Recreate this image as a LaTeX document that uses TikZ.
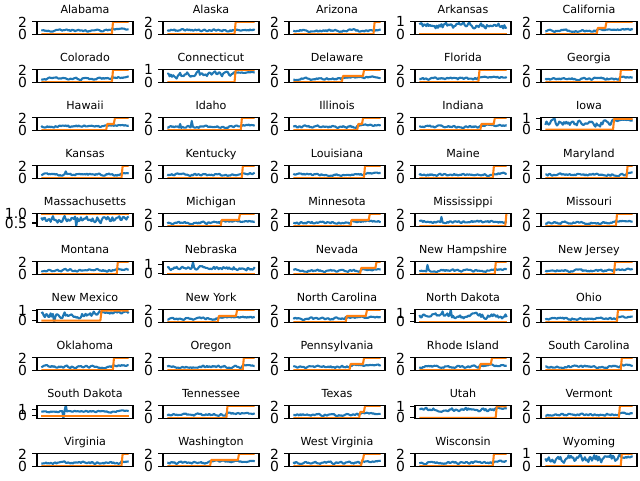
\documentclass[tikz,border=0pt]{standalone}
\usepackage{fontspec}
\setmainfont{DejaVu Sans}
\definecolor{mblue}{HTML}{1F77B4}
\definecolor{morange}{HTML}{FF7F0E}
\pgfkeys{/sp/.cd,
  ymin/.store in=\spymin, ymax/.store in=\spymax,
  ticks/.store in=\spticks,
  steps/.store in=\spsteps, ostart/.store in=\spostart,
  lo/.store in=\splo, hi/.store in=\sphi, amp/.store in=\spamp, amph/.store in=\spamph,
  bj/.store in=\spbj, spikes/.store in=\spspikes, seed/.store in=\spseed}
\newcommand\spdefaults{\pgfkeys{/sp/.cd, ymin=-0.1, ymax=2.1, ticks={0/0,2/2},
  steps={0.5/0}, ostart=0, lo=0.55, hi=0.78, amp=0.19, amph=0.13, bj=auto,
  spikes={-1/0}, seed=1}}
\def\autotag{auto}
\newcommand\subplot[4][]{%
 \begingroup
 \spdefaults\pgfkeys{/sp/.cd,#1}%
 \pgfmathsetmacro\L{37+126*#2}%
 \pgfmathsetmacro\T{21.3+48*#3}%
 \pgfmathsetmacro\B{\T+13.4}%
 \pgfmathsetmacro\sy{13.4/(\spymax-(\spymin))}%
 \node[ttl] (t-#2-#3) at (\L+48,\T-7.9) {#4};
 % orange path
 \pgfmathsetmacro\xs{\L+96*0.045}%
 \pgfmathsetmacro\ys{\B-(\spostart-(\spymin))*\sy}%
 \xdef\opath{(\xs,\ys)}%
 \xdef\olev{\spostart}%
 \foreach \f/\l [count=\k] in \spsteps {%
   \ifnum\k=1 \xdef\firstj{\f}\fi
   \pgfmathsetmacro\xa{\L+96*\f}%
   \pgfmathsetmacro\xb{\L+96*(\f+0.012)}%
   \pgfmathsetmacro\ya{\B-(\olev-(\spymin))*\sy}%
   \pgfmathsetmacro\yb{\B-(\l-(\spymin))*\sy}%
   \xdef\opath{\opath -- (\xa,\ya) -- (\xb,\yb)}%
   \xdef\olev{\l}%
 }%
 \pgfmathsetmacro\xe{\L+96*0.955}%
 \pgfmathsetmacro\ye{\B-(\olev-(\spymin))*\sy}%
 \xdef\opath{\opath -- (\xe,\ye)}%
 % blue path
 \ifx\spbj\autotag \global\let\bjuse\firstj \else \global\let\bjuse\spbj \fi
 \pgfmathsetseed{\spseed}%
 \gdef\prevn{0}%
 \gdef\bpath{}%
 \foreach \i in {0,...,75}{%
   \pgfmathsetmacro\ff{0.045+0.91*\i/75}%
   \pgfmathsetmacro\base{\ff<\bjuse ? \splo : \sphi}%
   \pgfmathsetmacro\aa{\ff<\bjuse ? \spamp : \spamph}%
   \pgfmathsetmacro\nz{0.5*\prevn+0.85*rand}%
   \xdef\prevn{\nz}%
   \pgfmathsetmacro\vv{\base+\aa*\nz}%
   \gdef\spv{}%
   \foreach \si/\sv in \spspikes {\ifnum\i=\si\relax \xdef\spv{\sv}\fi}%
   \ifx\spv\empty\else\let\vv\spv\fi
   \pgfmathsetmacro\xx{\L+96*\ff}%
   \pgfmathsetmacro\yy{\B-(\vv-(\spymin))*\sy}%
   \ifnum\i=0 \xdef\bpath{(\xx,\yy)}\else \xdef\bpath{\bpath -- (\xx,\yy)}\fi
 }%
 \begin{scope}
   \clip (\L,\T) rectangle (\L+96,\B);
   \draw[bl] \bpath;
   \draw[ol] \opath;
 \end{scope}
 \draw[spine] (\L,\T) rectangle (\L+96,\B);
 \foreach \tv/\tl [count=\k] in \spticks {%
   \pgfmathsetmacro\ty{\B-(\tv-(\spymin))*\sy}%
   \draw[tk] (\L,\ty) -- (\L-4.86,\ty);
   \node[tl] (y-#2-#3-\k) at (\L-9.72,\ty) {\tl};
 }%
 \endgroup
}
\begin{document}
\begin{tikzpicture}[x=0.75pt,y=-0.75pt,
  ttl/.style={font=\fontsize{8.33}{10}\selectfont, inner sep=0pt, anchor=base},
  tl/.style={font=\fontsize{10.42}{12}\selectfont, inner sep=0pt, anchor=east},
  bl/.style={draw=mblue, line width=1.56pt, line join=round},
  ol/.style={draw=morange, line width=1.56pt, line join=round},
  spine/.style={draw=black, line width=0.83pt},
  tk/.style={draw=black, line width=0.83pt}]
\useasboundingbox (0,0) rectangle (640,480);
% row 0
\subplot[steps={0.78/2},seed=11]{0}{0}{Alabama}
\subplot[steps={0.745/2},seed=12,lo=0.6,hi=0.7]{1}{0}{Alaska}
\subplot[steps={0.88/2},seed=13,hi=0.65]{2}{0}{Arizona}
\subplot[ymin=-0.05,ymax=1.05,ticks={0/0,1/1},lo=0.65,hi=0.65,amp=0.24,amph=0.24,seed=14]{3}{0}{Arkansas}
\subplot[steps={0.58/1,0.67/2},seed=15]{4}{0}{California}
% row 1
\subplot[steps={0.78/2},seed=21]{0}{1}{Colorado}
\subplot[ymin=-0.05,ymax=1.05,ticks={0/0,1/1},steps={0.745/1},lo=0.6,amp=0.24,hi=0.8,amph=0.05,seed=22]{1}{1}{Connecticut}
\subplot[steps={0.55/1,0.77/2},seed=23]{2}{1}{Delaware}
\subplot[steps={0.66/2},seed=24]{3}{1}{Florida}
\subplot[steps={0.82/2},seed=25]{4}{1}{Georgia}
% row 2
\subplot[steps={0.72/1,0.80/2},lo=0.6,seed=31]{0}{2}{Hawaii}
\subplot[steps={0.81/2},spikes={21/1.5,11/1.0},seed=32]{1}{2}{Idaho}
\subplot[steps={0.71/1,0.76/2},seed=33]{2}{2}{Illinois}
\subplot[steps={0.68/1,0.82/2},seed=34]{3}{2}{Indiana}
\subplot[ymin=-0.1,ymax=1.15,ticks={0/0,1/1},steps={0.75/1},lo=0.6,amp=0.3,hi=0.85,amph=0.07,seed=35]{4}{2}{Iowa}
% row 3
\subplot[steps={0.88/2},spikes={21/1.1},seed=41]{0}{3}{Kansas}
\subplot[steps={0.82/2},seed=42]{1}{3}{Kentucky}
\subplot[steps={0.78/2},seed=43]{2}{3}{Louisiana}
\subplot[steps={0.81/2},seed=44]{3}{3}{Maine}
\subplot[steps={0.89/2},seed=45]{4}{3}{Maryland}
% row 4
\subplot[ymin=0.3,ymax=1.03,ticks={0.5/0.5,1/1.0},steps={0.5/1},ostart=1,lo=0.72,hi=0.72,amp=0.18,amph=0.18,spikes={30/0.33},seed=51]{0}{4}{Massachusetts}
\subplot[steps={0.60/1,0.79/2},seed=52]{1}{4}{Michigan}
\subplot[steps={0.64/1,0.83/2},seed=53]{2}{4}{Minnesota}
\subplot[steps={0.94/2},lo=0.7,spikes={19/1.5},seed=54]{3}{4}{Mississippi}
\subplot[steps={0.78/2},seed=55]{4}{4}{Missouri}
% row 5
\subplot[steps={0.83/2},lo=0.6,amp=0.22,seed=61]{0}{5}{Montana}
\subplot[ymin=-0.12,ymax=1.4,ticks={0/0,1/1},lo=0.65,hi=0.65,amp=0.22,amph=0.22,spikes={22/1.3},seed=62]{1}{5}{Nebraska}
\subplot[steps={0.74/1,0.90/2},seed=63]{2}{5}{Nevada}
\subplot[steps={0.83/2},spikes={7/1.5},seed=64]{3}{5}{New Hampshire}
\subplot[steps={0.76/2},seed=65]{4}{5}{New Jersey}
% row 6
\subplot[ymin=-0.2,ymax=1.13,ticks={0/0,1/1},steps={0.66/1},lo=0.6,amp=0.34,hi=0.8,amph=0.12,spikes={11/-0.15},seed=71]{0}{6}{New Mexico}
\subplot[steps={0.57/1,0.76/2},seed=72]{1}{6}{New York}
\subplot[steps={0.59/1,0.80/2},seed=73]{2}{6}{North Carolina}
\subplot[ymin=-0.11,ymax=1.44,ticks={0/0,1/1},lo=0.65,hi=0.65,amp=0.28,amph=0.28,spikes={27/1.4,20/1.2},seed=74]{3}{6}{North Dakota}
\subplot[steps={0.79/2},seed=75]{4}{6}{Ohio}
% row 7
\subplot[steps={0.79/2},seed=81]{0}{7}{Oklahoma}
\subplot[steps={0.83/2},seed=82]{1}{7}{Oregon}
\subplot[steps={0.63/1,0.77/2},seed=83]{2}{7}{Pennsylvania}
\subplot[steps={0.67/1,0.79/2},seed=84]{3}{7}{Rhode Island}
\subplot[steps={0.83/2},seed=85]{4}{7}{South Carolina}
% row 8
\subplot[ymin=-0.5,ymax=1.75,ticks={0/0,1/1},lo=0.7,hi=0.85,amp=0.12,amph=0.07,bj=0.83,spikes={21/1.75,19/-0.5},seed=91]{0}{8}{South Dakota}
\subplot[steps={0.66/2},seed=92]{1}{8}{Tennessee}
\subplot[steps={0.73/1,0.78/2},seed=93]{2}{8}{Texas}
\subplot[ymin=-0.08,ymax=1.1,ticks={0/0,1/1},steps={0.84/1},lo=0.7,amp=0.16,hi=0.85,amph=0.07,seed=94]{3}{8}{Utah}
\subplot[steps={0.81/2},seed=95]{4}{8}{Vermont}
% row 9
\subplot[steps={0.88/2},seed=101]{0}{9}{Virginia}
\subplot[steps={0.49/1,0.78/2},seed=102]{1}{9}{Washington}
\subplot[steps={0.75/1,0.77/2},seed=103]{2}{9}{West Virginia}
\subplot[steps={0.81/2},seed=104]{3}{9}{Wisconsin}
\subplot[ymin=-0.05,ymax=1.05,ticks={0/0,1/1},steps={0.83/1},lo=0.6,amp=0.32,hi=0.75,amph=0.1,seed=105]{4}{9}{Wyoming}
\end{tikzpicture}
\end{document}
